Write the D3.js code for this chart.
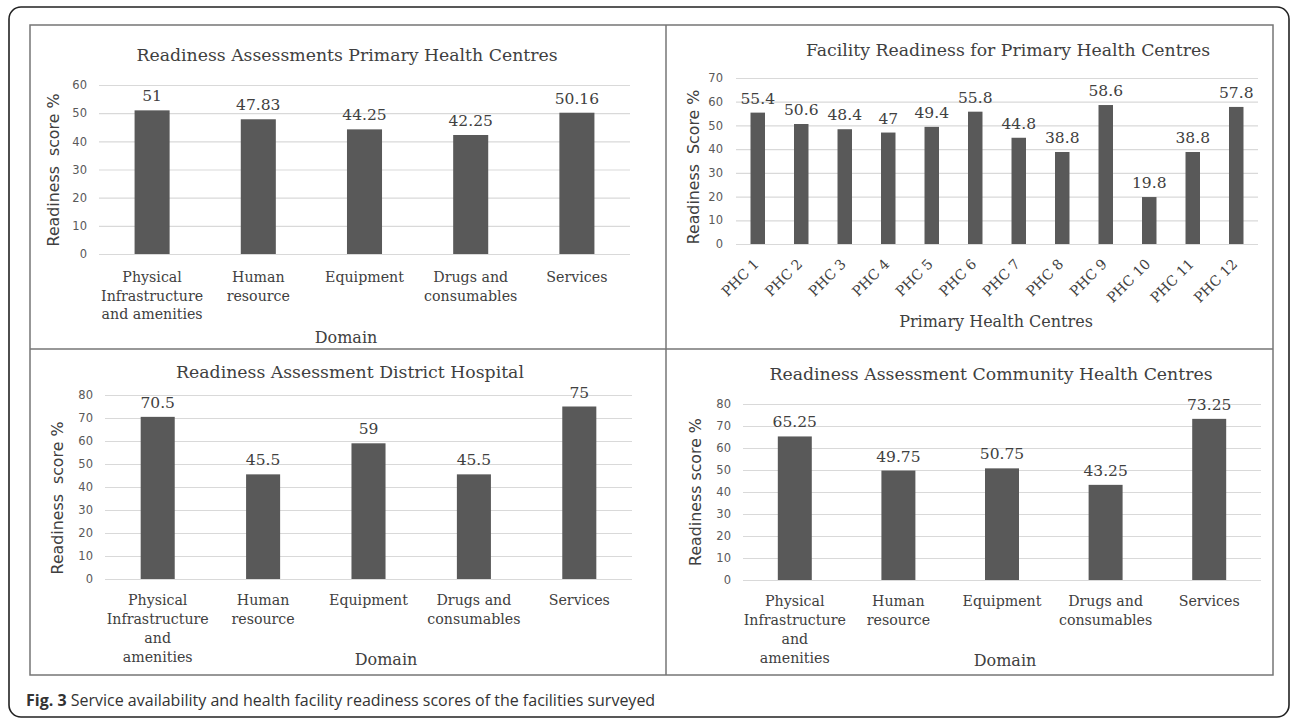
<!DOCTYPE html>
<html>
<head>
<meta charset="utf-8">
<script src="https://cdn.jsdelivr.net/npm/d3@7/dist/d3.min.js"></script>
<style>
  html, body { margin: 0; padding: 0; background: #fff; }
  svg { display: block; }
  .pre { white-space: pre; }
</style>
</head>
<body>
<svg id="fig" width="1290" height="719"></svg>
<script>
// ---- data ----
const domainLinesShort = [["Physical", "Infrastructure", "and amenities"], ["Human", "resource"], ["Equipment"], ["Drugs and", "consumables"], ["Services"]];
const domainLinesTall = [["Physical", "Infrastructure", "and", "amenities"], ["Human", "resource"], ["Equipment"], ["Drugs and", "consumables"], ["Services"]];
const phcDomainScores = [51, 47.83, 44.25, 42.25, 50.16];
const phcNames = ["PHC 1", "PHC 2", "PHC 3", "PHC 4", "PHC 5", "PHC 6", "PHC 7", "PHC 8", "PHC 9", "PHC 10", "PHC 11", "PHC 12"];
const phcScores = [55.4, 50.6, 48.4, 47, 49.4, 55.8, 44.8, 38.8, 58.6, 19.8, 38.8, 57.8];
const districtScores = [70.5, 45.5, 59, 45.5, 75];
const chcScores = [65.25, 49.75, 50.75, 43.25, 73.25];
const ticks60 = [0, 10, 20, 30, 40, 50, 60];
const ticks70 = [0, 10, 20, 30, 40, 50, 60, 70];
const ticks80 = [0, 10, 20, 30, 40, 50, 60, 70, 80];

const svg = d3.select("#fig");
const SERIF = "'DejaVu Serif', serif";
const SANS = "'DejaVu Sans', sans-serif";
const TEXT = "#404040";

// outer rounded frame and panel grid
svg.append("rect").attr("x", 9).attr("y", 7).attr("width", 1280).attr("height", 710)
  .attr("rx", 12).attr("fill", "none").attr("stroke", "#222").attr("stroke-width", 1.6);
const grid = svg.append("g").attr("fill", "none").attr("stroke", "#767676").attr("stroke-width", 1.5);
grid.append("rect").attr("x", 30).attr("y", 25).attr("width", 1243).attr("height", 650);
grid.append("line").attr("x1", 666).attr("x2", 666).attr("y1", 25).attr("y2", 675);
grid.append("line").attr("x1", 30).attr("x2", 1273).attr("y1", 349).attr("y2", 349);

function drawPanel(p) {
  const g = svg.append("g");
  const x = d3.scaleBand().domain(p.cats).range([p.x0, p.x1]).paddingInner(p.pad).paddingOuter(p.pad / 2);
  const y = d3.scaleLinear().domain([0, d3.max(p.ticks)]).range([p.yBase, p.yTop]);

  // gridlines
  const gridAxis = g.append("g").attr("transform", `translate(${p.x0},0)`)
    .call(d3.axisLeft(y).tickValues(p.ticks).tickSize(-(p.x1 - p.x0)).tickFormat(""));
  gridAxis.select(".domain").remove();
  gridAxis.selectAll("line").attr("stroke", "#d9d9d9").attr("stroke-width", 1.2);

  // tick labels
  const tickAxis = g.append("g").attr("transform", `translate(${p.tickRight},0)`)
    .call(d3.axisLeft(y).tickValues(p.ticks).tickSize(0).tickPadding(0));
  tickAxis.select(".domain").remove();
  tickAxis.selectAll("text").attr("font-family", SANS).attr("font-size", 11.5).attr("fill", "#595959");

  // bars
  g.selectAll("rect.bar").data(p.values).join("rect").attr("class", "bar")
    .attr("x", (d, i) => x(p.cats[i])).attr("width", x.bandwidth())
    .attr("y", d => y(d)).attr("height", d => y(0) - y(d))
    .attr("fill", "#595959");

  // value labels
  g.selectAll("text.val").data(p.values).join("text").attr("class", "val")
    .attr("x", (d, i) => x(p.cats[i]) + x.bandwidth() / 2).attr("y", d => y(d) - 9)
    .attr("text-anchor", "middle").attr("font-family", SERIF).attr("font-size", 15.5)
    .attr("fill", TEXT).text(d => String(d));

  // chart title
  g.append("text").attr("x", p.titleX).attr("y", p.titleY).attr("text-anchor", "middle")
    .attr("font-family", SERIF).attr("font-size", 17.3).attr("fill", TEXT).text(p.title);

  // y axis title
  g.append("text").attr("class", "pre")
    .attr("transform", `translate(${p.yTitleX},${p.yTitleY}) rotate(-90)`)
    .attr("dy", "0.35em").attr("text-anchor", "middle")
    .attr("font-family", SANS).attr("font-size", 15.8).attr("fill", TEXT).text(p.yTitle);

  // category labels
  if (p.rotated) {
    g.selectAll("text.cat").data(p.cats).join("text").attr("class", "cat")
      .attr("transform", d => `translate(${x(d) + x.bandwidth() / 2 + 2},${p.catY}) rotate(-45)`)
      .attr("text-anchor", "end").attr("font-family", SERIF).attr("font-size", 14)
      .attr("fill", TEXT).text(d => d);
  } else {
    const t = g.selectAll("text.cat").data(p.cats).join("text").attr("class", "cat")
      .attr("text-anchor", "middle").attr("font-family", SERIF).attr("font-size", 14.2)
      .attr("fill", TEXT);
    t.each(function (d, i) {
      d3.select(this).selectAll("tspan").data(p.catLines[i]).join("tspan")
        .attr("x", x(d) + x.bandwidth() / 2)
        .attr("y", (s, k) => p.catY + k * p.catStep)
        .text(s => s);
    });
  }

  // x axis title
  g.append("text").attr("x", p.xTitleX).attr("y", p.xTitleY).attr("text-anchor", "middle")
    .attr("font-family", SERIF).attr("font-size", 16).attr("fill", TEXT).text(p.xTitle);
}

drawPanel({
  cats: domainLinesShort.map(l => l.join(" ")), catLines: domainLinesShort, values: phcDomainScores, ticks: ticks60,
  x0: 99, x1: 630, pad: 0.67, yBase: 254, yTop: 85, tickRight: 87,
  title: "Readiness Assessments Primary Health Centres", titleX: 347, titleY: 61,
  yTitle: "Readiness  score %", yTitleX: 53, yTitleY: 170,
  catY: 282, catStep: 18.7, xTitle: "Domain", xTitleX: 346, xTitleY: 343
});

drawPanel({
  cats: phcNames, values: phcScores, ticks: ticks70, rotated: true,
  x0: 736, x1: 1258, pad: 0.667, yBase: 244, yTop: 78, tickRight: 723,
  title: "Facility Readiness for Primary Health Centres", titleX: 1008, titleY: 56,
  yTitle: "Readiness  Score %", yTitleX: 693, yTitleY: 167,
  catY: 265, xTitle: "Primary Health Centres", xTitleX: 996, xTitleY: 327
});

drawPanel({
  cats: domainLinesTall.map(l => l.join(" ")), catLines: domainLinesTall, values: districtScores, ticks: ticks80,
  x0: 105, x1: 632, pad: 0.677, yBase: 579, yTop: 395, tickRight: 93,
  title: "Readiness Assessment District Hospital", titleX: 350, titleY: 378,
  yTitle: "Readiness  score %", yTitleX: 57, yTitleY: 498,
  catY: 605, catStep: 19, xTitle: "Domain", xTitleX: 386, xTitleY: 665
});

drawPanel({
  cats: domainLinesTall.map(l => l.join(" ")), catLines: domainLinesTall, values: chcScores, ticks: ticks80,
  x0: 743, x1: 1261, pad: 0.672, yBase: 580, yTop: 404, tickRight: 731,
  title: "Readiness Assessment Community Health Centres", titleX: 991, titleY: 380,
  yTitle: "Readiness score %", yTitleX: 695, yTitleY: 492,
  catY: 606, catStep: 19, xTitle: "Domain", xTitleX: 1005, xTitleY: 666
});

// figure caption
const cap = svg.append("text").attr("x", 26).attr("y", 706)
  .attr("font-family", "'Open Sans', sans-serif").attr("font-size", 16).attr("fill", "#333");
cap.append("tspan").attr("font-weight", "bold").text("Fig. 3");
cap.append("tspan").text(" Service availability and health facility readiness scores of the facilities surveyed");
</script>
</body>
</html>
